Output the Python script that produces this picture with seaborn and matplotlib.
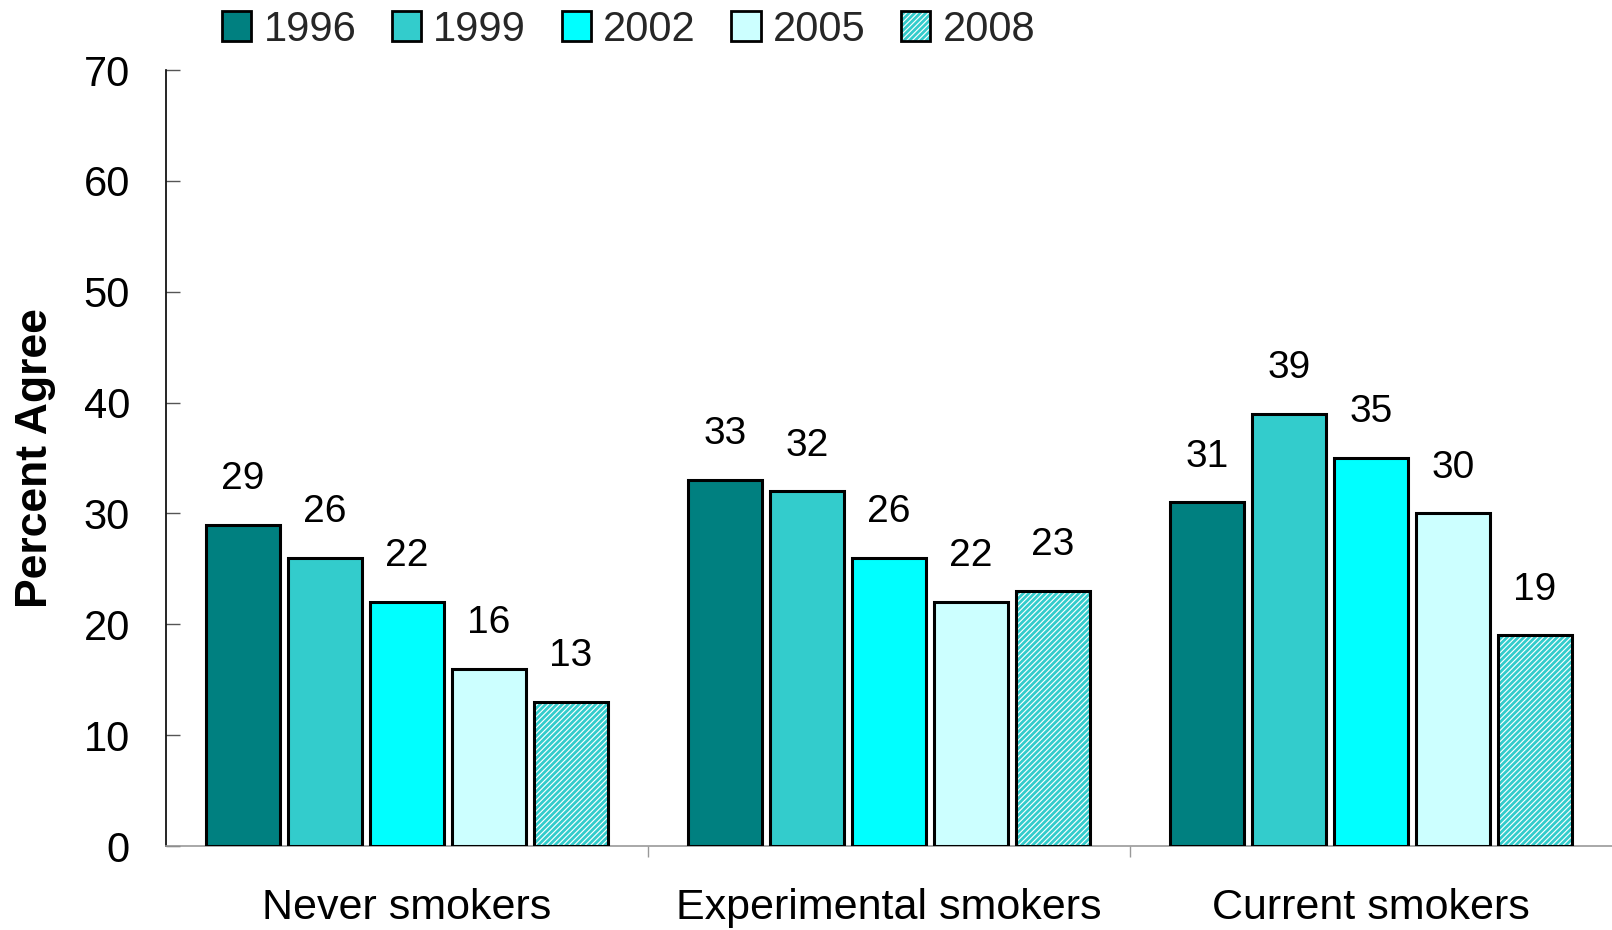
import matplotlib
matplotlib.use("Agg")
import matplotlib.pyplot as plt
import seaborn as sns
import pandas as pd
from matplotlib.patches import Patch

groups = ["Never smokers", "Experimental smokers", "Current smokers"]
years = ["1996", "1999", "2002", "2005", "2008"]
never_vals = [29, 26, 22, 16, 13]
experimental_vals = [33, 32, 26, 22, 23]
current_vals = [31, 39, 35, 30, 19]
yticks = [0, 10, 20, 30, 40, 50, 60, 70]

colors = ["#008080", "#33cccc", "#00ffff", "#ccffff", "#ffffff"]
hatch_col = "#33cccc"

rows = []
for g, vals in zip(groups, [never_vals, experimental_vals, current_vals]):
    for y, v in zip(years, vals):
        rows.append({"group": g, "year": y, "value": v})
df = pd.DataFrame(rows)

sns.set_theme(style="white")
plt.rcParams["font.family"] = ["Liberation Sans", "DejaVu Sans"]
plt.rcParams["hatch.linewidth"] = 2.0

fig = plt.figure(figsize=(16.12, 9.30), dpi=100)
ax = fig.add_axes([0.103, 0.0903, 0.897, 0.8344])

sns.barplot(data=df, x="group", y="value", hue="year", order=groups,
            hue_order=years, palette=colors, width=0.85, gap=0.1,
            edgecolor="black", linewidth=2.2, saturation=1, legend=False,
            ax=ax, zorder=3)

# hatch the 2008 bars with teal lines while keeping a black outline
last = ax.containers[-1]
for p in last.patches:
    p.set_hatch("//////")
    p._hatch_color = matplotlib.colors.to_rgba(hatch_col)

for cont in ax.containers:
    for p, v in zip(cont.patches, cont.datavalues):
        ax.annotate(f"{int(v)}", (p.get_x() + p.get_width() / 2, p.get_height()),
                    xytext=(0, 20), textcoords="offset points",
                    ha="center", va="bottom", fontsize=28, color="black")

ax.set_xlim(-0.5, 2.5)
ax.set_ylim(0, 70)
ax.set_yticks(yticks)
ax.tick_params(axis="y", direction="in", length=10, width=1, color="#555555",
               labelsize=30, labelcolor="black", pad=26, left=True)
ax.set_xticks([0, 1, 2])
ax.set_xticks([0.5, 1.5], minor=True)
ax.tick_params(axis="x", which="major", length=0, labelsize=31,
               labelcolor="black", pad=30)
ax.tick_params(axis="x", which="minor", direction="out", length=8, width=1,
               color="#999999", bottom=True)
ax.set_xlabel("")
ax.set_ylabel("Percent Agree", fontsize=32, fontweight="bold", labelpad=20,
              color="black")

for s in ["top", "right"]:
    ax.spines[s].set_visible(False)
ax.spines["left"].set_color("black")
ax.spines["left"].set_linewidth(1.2)
ax.spines["bottom"].set_color("#999999")
ax.spines["bottom"].set_linewidth(1.2)

handles = []
for y, c in zip(years, colors):
    if y == "2008":
        h = Patch(facecolor="white", edgecolor="black", linewidth=2, hatch="//////")
    else:
        h = Patch(facecolor=c, edgecolor="black", linewidth=2)
    handles.append(h)
leg = fig.legend(handles, years, loc="upper center", bbox_to_anchor=(0.39, 1.03),
                 ncol=5, frameon=False, fontsize=30, handlelength=0.7,
                 handleheight=0.7, handletextpad=0.3, columnspacing=0.85)
for h in leg.legend_handles:
    if h.get_hatch():
        h._hatch_color = matplotlib.colors.to_rgba(hatch_col)

fig.savefig("out.png", dpi=100)
